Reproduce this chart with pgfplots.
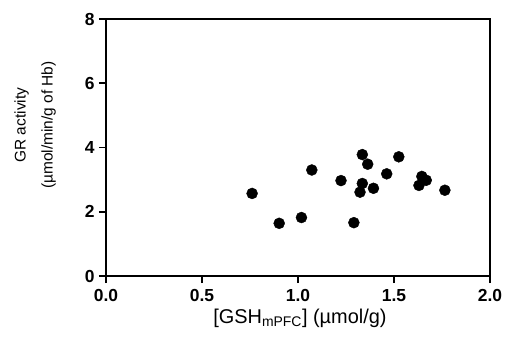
\documentclass[border=0pt]{standalone}
\usepackage{pgfplots}
\pgfplotsset{compat=1.18}
\usepackage{fontspec}
\setmainfont{Liberation Sans}
\begin{document}
\begin{tikzpicture}
\useasboundingbox (-106bp,-65bp) rectangle (402bp,276bp);
\begin{axis}[
  scale only axis,
  width=384bp, height=257bp,
  xmin=0, xmax=2, ymin=0, ymax=8,
  xtick={0,0.5,1,1.5,2},
  ytick={0,2,4,6,8},
  /pgf/number format/assume math mode=true,
  xticklabel={\pgfmathprintnumber[fixed,fixed zerofill,precision=1]{\tick}},
  yticklabel={\pgfmathprintnumber{\tick}},
  tick label style={font=\fontsize{17.5}{20}\selectfont\bfseries, black},
  xticklabel style={yshift=-3bp},
  yticklabel style={xshift=-1bp},
  axis line style={line width=2pt},
  tick style={line width=2pt, black},
  tick align=outside,
  major tick length=7bp,
  xtick pos=bottom, ytick pos=left,
  xlabel={[GSH\textsubscript{mPFC}] (\textmu mol/g)},
  ylabel={GR activity\\[9bp](\textmu mol/min/g of Hb)},
  xlabel style={font=\fontsize{20}{23}\selectfont, black, at={(axis description cs:0.505,-0.183)}, anchor=base},
  ylabel style={font=\fontsize{15.5}{18}\selectfont, black, align=center, at={(axis description cs:-0.13,0.587)}, anchor=south, inner sep=0pt},
]
\addplot[only marks, mark=*, mark size=5.5bp, black] coordinates {
(0.761,2.57)
(0.902,1.64)
(1.018,1.82)
(1.072,3.30)
(1.224,2.97)
(1.291,1.66)
(1.323,2.61)
(1.335,2.88)
(1.335,3.78)
(1.363,3.48)
(1.393,2.73)
(1.462,3.18)
(1.525,3.71)
(1.630,2.82)
(1.645,3.10)
(1.668,2.98)
(1.765,2.67)
};
\end{axis}
\end{tikzpicture}
\end{document}
